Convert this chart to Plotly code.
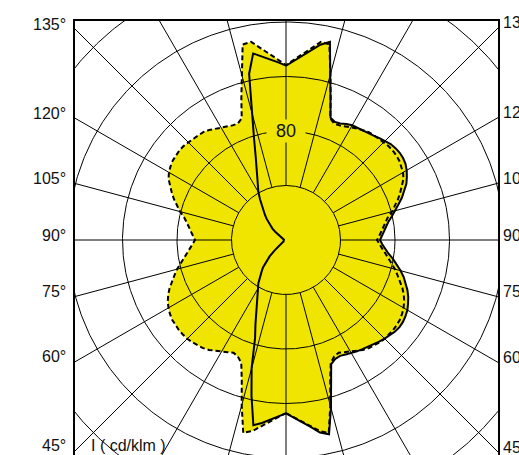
import numpy as np
import plotly.graph_objects as go

# ---- data (cd/klm) ----
gamma = [i * 2.5 for i in range(73)]  # 0 .. 180 deg

I_C0 = [127.2, 130.3, 134, 138.3, 143.5, 146, 127.5, 109.7, 97, 94.5, 93.8, 94.8, 96,
        96.9, 97.8, 98.9, 100, 101.2, 102.4, 103.5, 104.5, 105, 104.8, 104, 102.9, 101,
        99, 96.5, 93.6, 90.6, 87.1, 83.5, 79.7, 75.8, 72.9, 70.7, 69, 70.5, 72, 74, 76.2,
        79.5, 83, 86.5, 90.5, 94, 97.5, 100, 102.3, 104, 104.9, 105.2, 104.9, 104.2, 103,
        101.5, 100, 99, 98.2, 97.7, 97.2, 96, 94.3, 93.8, 95.6, 108.7, 126.3, 149, 145.5,
        140.3, 135.6, 131.5, 127.9]

I_C180 = [127.2, 129.5, 132.5, 135.5, 138, 117, 97.5, 75.5, 65.5, 57.5, 50.5, 45.3, 41.1,
          37.8, 33.5, 29.5, 26.3, 21.7, 17, 11.5, 7.6, 5, 3.2, 2.2,
          1.5, 1.5, 1.5, 1.5, 1.5, 1.5, 1.5, 1.5, 1.5, 1.5, 1.5, 1.5, 1.5, 1.5, 1.5, 1.5,
          1.5, 1.5, 1.5, 1.5, 1.5, 1.5, 1.5, 1.5, 1.5,
          2.5, 5.5, 10, 13, 15.5, 18, 21, 24, 27.5, 31, 35.5, 40.5, 45, 50.5, 56.5, 65, 78,
          97, 125, 139, 135.6, 132.8, 130.5, 128]

I_C90 = [127, 130.1, 133.7, 137.8, 142.4, 145, 125.6, 108, 96, 92.5, 91.3, 92.8, 94.4,
         96.5, 98.5, 100, 101, 101.8, 102.5, 102.7, 102.7, 102.5, 102, 101, 99.6, 97.8,
         95.4, 92.5, 89.2, 85.8, 82.8, 79.5, 76.3, 73.4, 70.8, 68.6, 66.8, 68.5, 70, 71.8,
         73.8, 76.5, 80.5, 84, 87.5, 90.7, 94, 97.2, 99.2, 100.5, 101.5, 102, 102.2, 102,
         101.3, 100.7, 100.3, 99.8, 98.5, 97, 95.5, 94, 92.8, 92.5, 95, 109, 126, 147,
         147.7, 141.9, 136.9, 132.4, 128.4]
I_C270 = list(I_C90)

grid_radii = [40, 80, 120, 160, 200]
spoke_step = 15
label_angles = [45, 60, 75, 90, 105, 120, 135]
unit_label = "I ( cd/klm )"

YELLOW = "#F0E500"
X_LEFT, X_RIGHT = -154.86, 155.6
Y_BOTTOM, Y_TOP = -157.8, 160.73


def plane_xy(values, side):
    g = np.radians(np.array(gamma))
    r = np.array(values)
    return side * r * np.sin(g), -r * np.cos(g)


def closed_curve(right_vals, left_vals):
    xr, yr = plane_xy(right_vals, 1)
    xl, yl = plane_xy(left_vals, -1)
    return np.concatenate([xr, xl[::-1]]), np.concatenate([yr, yl[::-1]])


sx, sy = closed_curve(I_C0, I_C180)
dx, dy = closed_curve(I_C90, I_C270)

fig = go.Figure()
for x, y in ((dx, dy), (sx, sy)):
    fig.add_trace(go.Scatter(x=x, y=y, mode="lines", fill="toself", fillcolor=YELLOW,
                             line=dict(width=0, color=YELLOW), hoverinfo="skip"))

# grid circles
t = np.linspace(0, 2 * np.pi, 721)
cx, cy = [], []
for R in grid_radii:
    cx += list(R * np.cos(t)) + [None]
    cy += list(R * np.sin(t)) + [None]
fig.add_trace(go.Scatter(x=cx, y=cy, mode="lines", line=dict(color="black", width=1),
                         hoverinfo="skip"))

# spokes
px_, py_ = [], []
r0, r1 = grid_radii[0], 300
for a in range(0, 360, spoke_step):
    ar = np.radians(a)
    px_ += [r0 * np.sin(ar), r1 * np.sin(ar), None]
    py_ += [-r0 * np.cos(ar), -r1 * np.cos(ar), None]
fig.add_trace(go.Scatter(x=px_, y=py_, mode="lines", line=dict(color="black", width=1),
                         hoverinfo="skip"))

# curves
fig.add_trace(go.Scatter(x=dx, y=dy, mode="lines",
                         line=dict(color="black", width=2, dash="5px,3px"), hoverinfo="skip"))
fig.add_trace(go.Scatter(x=sx, y=sy, mode="lines",
                         line=dict(color="black", width=2), hoverinfo="skip"))

FONT = "Liberation Sans, Arial, sans-serif"
ann = []
for a in label_angles:
    ar = np.radians(a)
    cot = np.cos(ar) / np.sin(ar)
    ann.append(dict(x=X_LEFT, y=-abs(X_LEFT) * cot, xref="x", yref="y", text=f"{a}°",
                    showarrow=False, xanchor="right", yanchor="middle", xshift=-7, yshift=5,
                    font=dict(size=16, color="#111", family=FONT)))
    ann.append(dict(x=X_RIGHT, y=-X_RIGHT * cot, xref="x", yref="y", text=f"{a}°",
                    showarrow=False, xanchor="left", yanchor="middle", xshift=3, yshift=5,
                    font=dict(size=16, color="#111", family=FONT)))
ann.append(dict(x=X_LEFT, y=-abs(X_LEFT) / np.tan(np.radians(45)), xref="x", yref="y",
                text=unit_label, showarrow=False, xanchor="left", yanchor="middle",
                xshift=14, yshift=5, font=dict(size=16, color="#111", family=FONT)))
ann.append(dict(x=0, y=grid_radii[1], xref="x", yref="y", text=str(grid_radii[1]),
                showarrow=False, xanchor="center", yanchor="middle", width=38, height=22,
                borderpad=0, bgcolor=YELLOW, font=dict(size=18, color="#111", family=FONT)))

fig.update_layout(
    width=519, height=455, margin=dict(l=75, r=21, t=21, b=0),
    paper_bgcolor="white", plot_bgcolor="white", showlegend=False,
    annotations=ann,
    xaxis=dict(range=[X_LEFT, X_RIGHT], showgrid=False, zeroline=False, showticklabels=False,
               ticks="", showline=True, mirror=True, linecolor="black", linewidth=1.5,
               fixedrange=True),
    yaxis=dict(range=[Y_BOTTOM, Y_TOP], showgrid=False, zeroline=False, showticklabels=False,
               ticks="", showline=True, mirror=True, linecolor="black", linewidth=1.5,
               fixedrange=True),
)
fig.write_html("out.html", config={"displayModeBar": False},
               post_script="document.body.style.margin='0';document.body.style.overflow='hidden';")
